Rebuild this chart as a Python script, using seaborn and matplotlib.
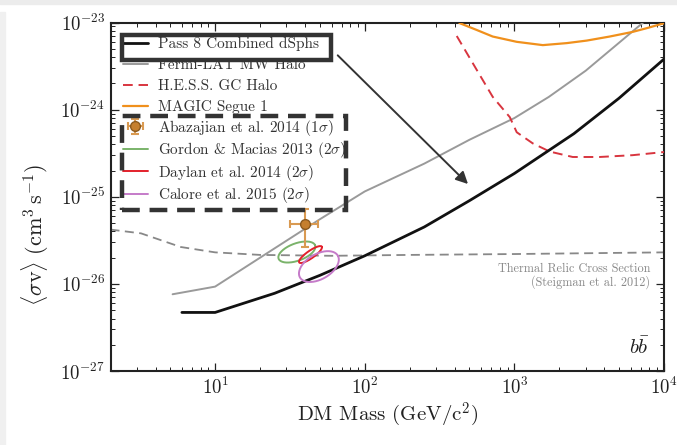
import numpy as np
import pandas as pd
import seaborn as sns
import matplotlib
matplotlib.use("Agg")
import matplotlib.pyplot as plt
from matplotlib.patches import Rectangle

# ---- limits on the annihilation cross section, b-bbar channel ----
mass_p8 = [6, 10, 25, 50, 100, 250, 500, 1000, 2500, 5000, 10000]
sv_p8 = [4.7e-27, 4.7e-27, 7.8e-27, 1.25e-26, 2.1e-26, 4.5e-26, 9.0e-26,
         1.85e-25, 5.3e-25, 1.35e-24, 3.8e-24]

mass_mw = [5.2, 10, 20, 50, 100, 250, 500, 1000, 1700, 3000, 8000]
sv_mw = [7.6e-27, 9.3e-27, 2.0e-26, 5.5e-26, 1.15e-25, 2.4e-25, 4.5e-25,
         8.0e-25, 1.4e-24, 2.8e-24, 1.15e-23]

mass_hess = [412, 561, 717, 932, 1037, 1327, 1723, 2454, 3715, 6166, 10000]
sv_hess = [7.0e-24, 2.85e-24, 1.4e-24, 8.2e-25, 5.5e-25, 4.1e-25, 3.3e-25,
           2.86e-25, 2.86e-25, 3.0e-25, 3.26e-25]

mass_magic = [400, 433, 561, 717, 1037, 1549, 2240, 3044, 4335, 6170, 7650, 10000]
sv_magic = [1.1e-23, 9.8e-24, 8.2e-24, 6.9e-24, 6.0e-24, 5.5e-24, 5.8e-24,
            6.2e-24, 6.9e-24, 7.8e-24, 8.6e-24, 9.8e-24]

mass_relic = [2, 3.2, 5.9, 10, 20, 60, 200, 1000, 10000]
sv_relic = [4.2e-26, 3.8e-26, 2.65e-26, 2.3e-26, 2.15e-26, 2.1e-26, 2.15e-26,
            2.2e-26, 2.3e-26]

# Galactic-centre excess fits
abaz_mass, abaz_mass_lo, abaz_mass_hi = 39.9, 31.7, 48.7
abaz_sv, abaz_sv_lo, abaz_sv_hi = 4.86e-26, 2.65e-26, 7.2e-26

# 2-sigma contours: centre (mass, sv), half-axes in mass-decades, tilt in degrees
ell_names = ["Gordon", "Daylan", "Calore"]
ell_mass = [35.2, 43.4, 49.4]
ell_sv = [2.32e-26, 2.17e-26, 1.58e-26]
ell_major = [0.130, 0.092, 0.146]
ell_minor = [0.058, 0.025, 0.084]
ell_angle = [20, 35, 30]

labels = ["Pass 8 Combined dSphs", "Fermi-LAT MW Halo", "H.E.S.S. GC Halo",
          "MAGIC Segue 1", r"Abazajian et al. 2014 (1$\sigma$)",
          r"Gordon & Macias 2013 (2$\sigma$)", r"Daylan et al. 2014 (2$\sigma$)",
          r"Calore et al. 2015 (2$\sigma$)"]

sns.set_theme(style="ticks")
plt.rcParams.update({
    "font.family": "serif",
    "font.serif": ["cmr10", "DejaVu Serif"],
    "mathtext.fontset": "cm",
    "axes.formatter.use_mathtext": True,
    "axes.unicode_minus": False,
    "axes.edgecolor": "#222222",
    "axes.linewidth": 1.5,
})

W, H = 677, 445
fig = plt.figure(figsize=(W / 100, H / 100), dpi=100)
ax = fig.add_axes([110.5 / W, 1 - 371 / H, 553.5 / W, 348.5 / H])
ax.set_xscale("log")
ax.set_yscale("log")
ax.set_xlim(2, 1e4)
ax.set_ylim(1e-27, 1e-23)

c_p8, c_mw, c_hess, c_magic = "#111111", "#9a9a9a", "#d8353f", "#f0901c"
c_green, c_red, c_pink = "#7ab36a", "#e3202b", "#c57bc9"

sns.lineplot(x=mass_relic, y=sv_relic, ax=ax, color="#888888", lw=1.3,
             linestyle=(0, (5, 3)), zorder=2)
sns.lineplot(x=mass_mw, y=sv_mw, ax=ax, color=c_mw, lw=1.4, label=labels[1], zorder=3)
sns.lineplot(x=mass_hess, y=sv_hess, ax=ax, color=c_hess, lw=1.4,
             linestyle=(0, (5, 3)), label=labels[2], zorder=3)
sns.lineplot(x=mass_magic, y=sv_magic, ax=ax, color=c_magic, lw=1.6, label=labels[3], zorder=3)
sns.lineplot(x=mass_p8, y=sv_p8, ax=ax, color=c_p8, lw=2.0, label=labels[0], zorder=4)

ax.errorbar([abaz_mass], [abaz_sv],
            xerr=[[abaz_mass - abaz_mass_lo], [abaz_mass_hi - abaz_mass]],
            yerr=[[abaz_sv - abaz_sv_lo], [abaz_sv_hi - abaz_sv]],
            fmt="o", color="#d99a52", ecolor="#d99a52", mfc="#c57f2e",
            mec="#8c5a1e", ms=7, elinewidth=1.5, capsize=3, capthick=1.5,
            label=labels[4], zorder=5)

# contours drawn in log space, with the axis aspect folded in so the tilt reads on screen
fig.canvas.draw()
bb = ax.get_window_extent()
px_per_dec_x = bb.width / np.log10(1e4 / 2)
px_per_dec_y = bb.height / 4.0
ratio = px_per_dec_x / px_per_dec_y
t = np.linspace(0, 2 * np.pi, 200)
ell_colors = [c_green, c_red, c_pink]
for i, name in enumerate(ell_names):
    th = np.deg2rad(ell_angle[i])
    a, b = ell_major[i], ell_minor[i]
    lx = np.log10(ell_mass[i]) + a * np.cos(t) * np.cos(th) - b * np.sin(t) * np.sin(th)
    ly = np.log10(ell_sv[i]) + ratio * (a * np.cos(t) * np.sin(th) + b * np.sin(t) * np.cos(th))
    df = pd.DataFrame({"m": 10 ** lx, "sv": 10 ** ly})
    sns.lineplot(data=df, x="m", y="sv", sort=False, ax=ax, color=ell_colors[i],
                 lw=1.4, label=labels[5 + i], zorder=4)

ax.tick_params(which="both", direction="in", top=True, right=True, colors="#222222",
               labelcolor="#222222")
ax.tick_params(which="major", length=6, width=0.9, labelsize=13.5, pad=4)
ax.tick_params(which="minor", length=3, width=0.7)

ax.set_xlabel(r"DM Mass (GeV/c$^2$)", fontsize=15, color="#222222", labelpad=2)
ax.set_ylabel(r"$\langle\sigma\mathrm{v}\rangle\ (\mathrm{cm}^3\,\mathrm{s}^{-1})$",
              fontsize=16, color="#222222")
ax.yaxis.set_label_coords(-0.108, 0.39)

# legend split in two blocks: limits on top, excess fits below
handles, labs = ax.get_legend_handles_labels()
order = [labs.index(l) for l in labels]
hs = [handles[k] for k in order]
ls = [labs[k] for k in order]
leg_kw = dict(loc="upper left", frameon=False, fontsize=11, handlelength=1.65,
              handletextpad=0.65, borderaxespad=0.0, borderpad=0.0)
leg1 = ax.legend(hs[:4], ls[:4], bbox_to_anchor=(0.022, 0.958),
                 labelspacing=0.46, **leg_kw)
ax.add_artist(leg1)
leg2 = ax.legend(hs[4:], ls[4:], bbox_to_anchor=(0.022, 0.727),
                 labelspacing=0.17, **leg_kw)
for lg in (leg1, leg2):
    for txt in lg.get_texts():
        txt.set_color("#333333")

ax.text(0.975, 0.31, "Thermal Relic Cross Section\n(Steigman et al. 2012)",
        transform=ax.transAxes, ha="right", va="top", fontsize=8.8,
        color="#888888", linespacing=1.0)
ax.text(0.975, 0.068, r"$b\bar{b}$", transform=ax.transAxes, ha="right",
        va="center", fontsize=15, color="#222222")

# highlight frames around the dSph limit and the excess fits
ax.add_patch(Rectangle((0.020, 0.893), 0.379, 0.070, transform=ax.transAxes,
                       fill=False, ec="#333333", lw=3.2, zorder=6, clip_on=False))
ax.add_patch(Rectangle((0.020, 0.462), 0.405, 0.269, transform=ax.transAxes,
                       fill=False, ec="#333333", lw=3.2, ls=(0, (4, 2.2)),
                       zorder=6, clip_on=False))
ax.annotate("", xy=(490, 1.4e-25), xytext=(66, 4.2e-24),
            arrowprops=dict(arrowstyle="-|>", color="#333333", lw=1.4,
                            mutation_scale=18, shrinkA=0, shrinkB=0), zorder=6)

# page edge shading
fig.patches.append(Rectangle((0, 1 - 4 / H), 1, 4 / H, transform=fig.transFigure,
                             color="#ececec", zorder=0))
fig.patches.append(Rectangle((0, 0), 5 / W, 1 - 12 / H, transform=fig.transFigure,
                             color="#f0f0f0", zorder=0))

fig.savefig("out.png", dpi=100)
